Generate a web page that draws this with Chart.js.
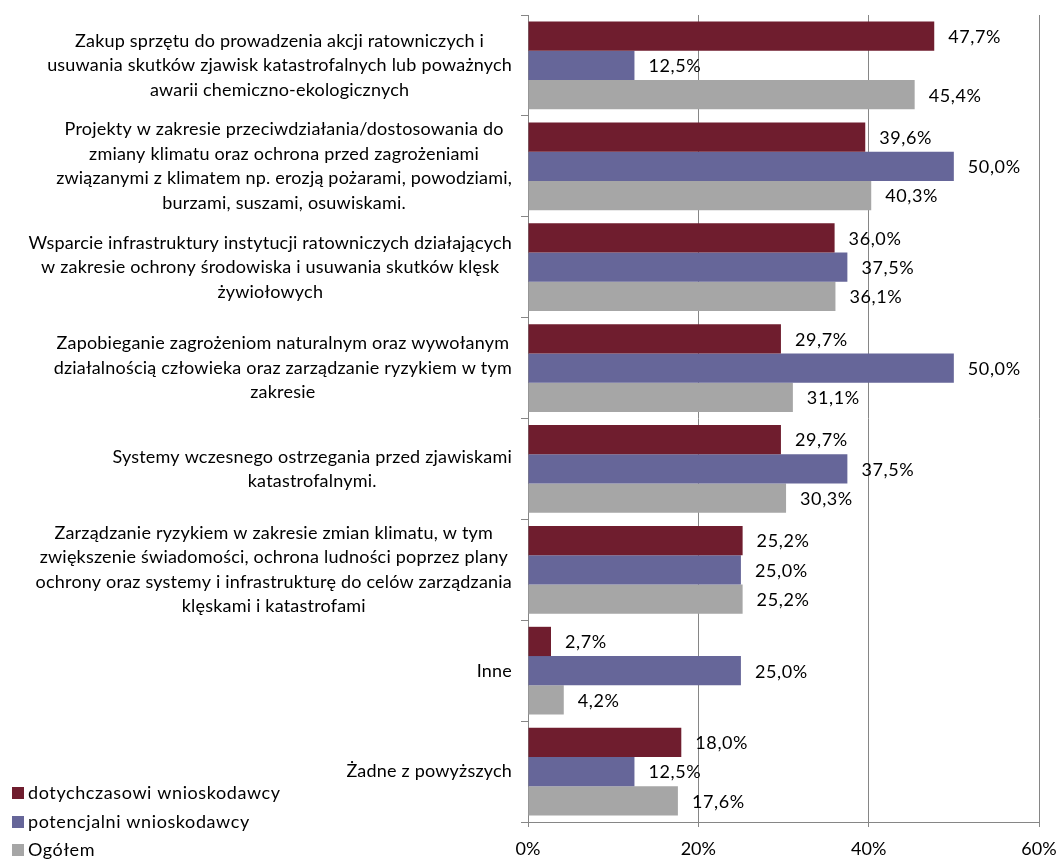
<!DOCTYPE html>
<html>
<head>
<meta charset="utf-8">
<script src="https://cdn.jsdelivr.net/npm/chart.js@4/dist/chart.umd.min.js"></script>
<style>
  html, body { margin: 0; padding: 0; background: #fff; }
  #wrap { width: 1062px; height: 859px; position: relative; }
</style>
</head>
<body>
<div id="wrap"><canvas id="chart"></canvas></div>
<script>
const categories = [
    ['Zakup sprzętu do prowadzenia akcji ratowniczych i', 'usuwania skutków zjawisk katastrofalnych lub poważnych', 'awarii chemiczno-ekologicznych'],
    ['Projekty w zakresie przeciwdziałania/dostosowania do', 'zmiany klimatu oraz ochrona przed zagrożeniami', 'związanymi z klimatem np. erozją pożarami, powodziami,', 'burzami, suszami, osuwiskami.'],
    ['Wsparcie infrastruktury instytucji ratowniczych działających', 'w zakresie ochrony środowiska i usuwania skutków klęsk', 'żywiołowych'],
    ['Zapobieganie zagrożeniom naturalnym oraz wywołanym', 'działalnością człowieka oraz zarządzanie ryzykiem w tym', 'zakresie'],
    ['Systemy wczesnego ostrzegania przed zjawiskami', 'katastrofalnymi.'],
    ['Zarządzanie ryzykiem w zakresie zmian klimatu, w tym', 'zwiększenie świadomości, ochrona ludności poprzez plany', 'ochrony oraz systemy i infrastrukturę do celów zarządzania', 'klęskami i katastrofami'],
    ['Inne'],
    ['Żadne z powyższych']
];

const seriesNames = ['dotychczasowi wnioskodawcy', 'potencjalni wnioskodawcy', 'Ogółem'];
const seriesColors = ['#6F1D2E', '#666699', '#A6A6A6'];

const dotychczasowi = [47.7, 39.6, 36.0, 29.7, 29.7, 25.2, 2.7, 18.0];
const potencjalni   = [12.5, 50.0, 37.5, 50.0, 37.5, 25.0, 25.0, 12.5];
const ogolem        = [45.4, 40.3, 36.1, 31.1, 30.3, 25.2, 4.2, 17.6];

const xTicks = [0, 20, 40, 60];

const FONT = 'Lato, "Noto Sans", sans-serif';
const FONT_SIZE = 18;

const fmt = v => v.toFixed(1).replace('.', ',') + '%';

// category labels: block right-aligned to the axis, lines centred inside the block
const categoryLabels = {
    id: 'categoryLabels',
    afterDraw(chart) {
        const ctx = chart.ctx;
        const yScale = chart.scales.y;
        const right = chart.chartArea.left - 16;
        const lineH = 24.5;
        ctx.save();
        ctx.font = `${FONT_SIZE}px ${FONT}`;
        ctx.letterSpacing = '0.2px';
        ctx.fillStyle = '#000';
        ctx.textAlign = 'center';
        ctx.textBaseline = 'middle';
        categories.forEach((lines, i) => {
            const yc = yScale.getPixelForValue(i);
            const w = Math.max(...lines.map(l => ctx.measureText(l).width));
            const cx = right - w / 2;
            const y0 = yc - (lines.length - 1) * lineH / 2;
            lines.forEach((l, k) => ctx.fillText(l, cx, y0 + k * lineH));
        });
        ctx.restore();
    }
};

// value labels to the right of each bar
const valueLabels = {
    id: 'valueLabels',
    afterDatasetsDraw(chart) {
        const ctx = chart.ctx;
        ctx.save();
        ctx.font = `${FONT_SIZE}px ${FONT}`;
        ctx.letterSpacing = '0.6px';
        ctx.fillStyle = '#000';
        ctx.textAlign = 'left';
        ctx.textBaseline = 'middle';
        chart.data.datasets.forEach((ds, di) => {
            chart.getDatasetMeta(di).data.forEach((bar, i) => {
                ctx.fillText(fmt(ds.data[i]), bar.x + 14, bar.y + 1);
            });
        });
        ctx.restore();
    }
};

// legend in the bottom-left corner, one entry per line
const cornerLegend = {
    id: 'cornerLegend',
    afterDraw(chart) {
        const ctx = chart.ctx;
        const ys = [793, 822, 850];
        ctx.save();
        ctx.font = `${FONT_SIZE}px ${FONT}`;
        ctx.letterSpacing = '0.6px';
        ctx.textAlign = 'left';
        ctx.textBaseline = 'middle';
        chart.data.datasets.forEach((ds, i) => {
            ctx.fillStyle = ds.backgroundColor;
            ctx.fillRect(12, ys[i] - 6, 12, 12);
            ctx.fillStyle = '#000';
            ctx.fillText(ds.label, 28, ys[i]);
        });
        ctx.restore();
    }
};

new Chart(document.getElementById('chart'), {
    type: 'bar',
    data: {
        labels: categories,
        datasets: [
            {label: seriesNames[0], data: dotychczasowi, backgroundColor: seriesColors[0]},
            {label: seriesNames[1], data: potencjalni, backgroundColor: seriesColors[1]},
            {label: seriesNames[2], data: ogolem, backgroundColor: seriesColors[2]},
        ]
    },
    options: {
        indexAxis: 'y',
        responsive: true,
        maintainAspectRatio: false,
        animation: false,
        datasets: {
            bar: {
                categoryPercentage: 0.87,
                barPercentage: 1.0,
                borderWidth: 0,
            }
        },
        layout: {
            padding: {left: 0, right: 23, top: 15, bottom: 0}
        },
        scales: {
            x: {
                min: 0,
                max: 60,
                afterBuildTicks: s => { s.ticks = xTicks.map(v => ({value: v})); },
                afterFit: s => {
                    s.height = 37;
                    s.paddingLeft = 0;
                    s.paddingRight = 0;
                },
                ticks: {
                    callback: v => v + '%',
                    color: '#000',
                    padding: 11,
                    font: {family: FONT, size: FONT_SIZE},
                },
                grid: {
                    color: '#868686',
                    lineWidth: 1,
                    tickLength: 5,
                },
                border: {color: '#868686'},
            },
            y: {
                afterFit: s => { s.width = 528; },
                ticks: {display: false},
                grid: {
                    drawOnChartArea: false,
                    drawTicks: true,
                    tickLength: 7,
                    color: '#868686',
                },
                border: {color: '#868686'},
            }
        },
        plugins: {
            legend: {display: false},
            tooltip: {enabled: false},
        }
    },
    plugins: [categoryLabels, valueLabels, cornerLegend]
});
</script>
</body>
</html>
